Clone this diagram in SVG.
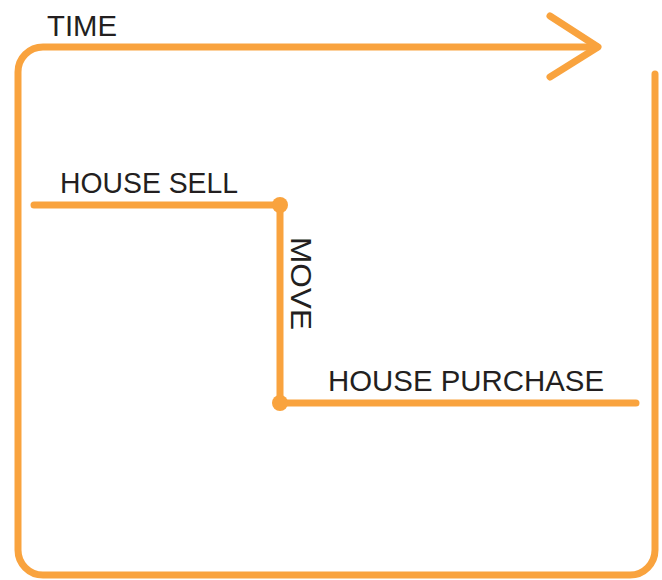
<svg xmlns="http://www.w3.org/2000/svg" width="662" height="580" viewBox="0 0 662 580">
<style>
.ln{fill:none;stroke:#F9A33E;stroke-width:7;stroke-linecap:round;stroke-linejoin:round}
.dot{fill:#F9A33E}
.lb{font-family:"Liberation Sans",Arial,sans-serif;font-size:30px;fill:#231F20}
</style>
<rect width="662" height="580" fill="#fff"/>
<g id="connectors">
<path class="ln" d="M655,74 V550 A25,25 0 0 1 630,575 H43 A25,25 0 0 1 18,550 V72 A25,25 0 0 1 43,47 H597"/>
<path class="ln" d="M550,16 L598,47 L550,77"/>
<path class="ln" d="M34,205 H280 V403 H636"/>
</g>
<g id="time"><text class="lb" x="47" y="36" textLength="70" lengthAdjust="spacingAndGlyphs">TIME</text></g>
<g id="house-sell">
<text class="lb" x="60" y="193" textLength="178" lengthAdjust="spacingAndGlyphs">HOUSE SELL</text>
<circle class="dot" cx="280" cy="205" r="8"/>
</g>
<g id="move"><text class="lb" transform="translate(291,237) rotate(90)" textLength="93" lengthAdjust="spacingAndGlyphs">MOVE</text></g>
<g id="house-purchase">
<text class="lb" x="328" y="391" textLength="276" lengthAdjust="spacingAndGlyphs">HOUSE PURCHASE</text>
<circle class="dot" cx="280" cy="403" r="8"/>
</g>
</svg>
